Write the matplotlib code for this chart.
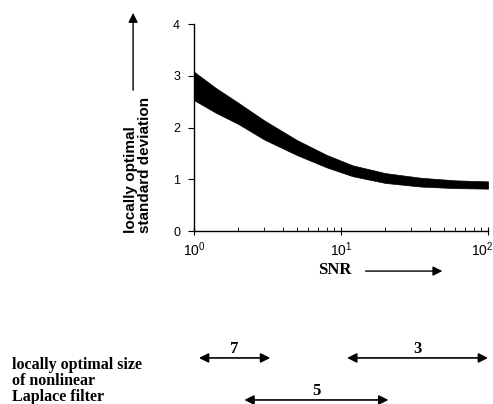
import matplotlib
import numpy as np

matplotlib.use("Agg")
import matplotlib.pyplot as plt  # noqa: E402
from matplotlib.transforms import ScaledTranslation, blended_transform_factory  # noqa: E402

plt.rcParams.update({"font.family": "Liberation Sans", "font.size": 9,
                     "mathtext.fontset": "custom", "mathtext.rm": "Liberation Sans",
                     "axes.linewidth": 1.0})

# band of locally optimal standard deviation vs SNR
snr = [1, 1.4, 2, 3, 5, 8, 12, 20, 35, 60, 100]
sd_upper = [3.08, 2.77, 2.48, 2.14, 1.76, 1.47, 1.27, 1.12, 1.03, 0.98, 0.96]
sd_lower = [2.53, 2.29, 2.07, 1.77, 1.47, 1.23, 1.06, 0.93, 0.86, 0.83, 0.82]

# SNR ranges for the locally optimal Laplace filter size
filter_sizes = ["7", "5", "3"]
filter_lo = [1.08, 2.2, 11.0]
filter_hi = [3.3, 21.0, 100.0]
filter_row = [0.114, 0.010, 0.114]

fig = plt.figure(figsize=(4.93, 4.04), dpi=100)
ax = fig.add_axes([0.3935, 0.428, 0.5965, 0.5125])

ax.fill_between(snr, sd_lower, sd_upper, color="black", lw=0.5, edgecolor="black")
ax.set_xscale("log")
ax.set_xlim(1, 100)
ax.set_ylim(0, 4)
ax.set_yticks([0, 1, 2, 3, 4])
ax.set_xticks([1, 10, 100])
ax.set_xticklabels([r"$10^0$", r"$10^1$", r"$10^2$"], fontsize=10)
for s in ("top", "right"):
    ax.spines[s].set_visible(False)
ax.tick_params(axis="y", direction="out", length=4, pad=6, labelsize=9)
ax.tick_params(axis="x", which="major", direction="inout", length=6, pad=4)
ax.tick_params(axis="x", which="minor", direction="in", length=3)
# the reference crops the last label at the page edge; pull it in a little
last = ax.get_xticklabels()[-1]
last.set_transform(last.get_transform() + ScaledTranslation(-6 / 100, 0, fig.dpi_scale_trans))

# y label with upward arrow
fig.text(0.28, 0.423, "locally optimal\nstandard deviation", rotation=90,
         ha="center", va="bottom", multialignment="left",
         fontsize=11, fontweight="bold", linespacing=1.05)
ax.annotate("", xy=(0.270, 0.975), xytext=(0.270, 0.770),
            xycoords="figure fraction", textcoords="figure fraction",
            arrowprops=dict(arrowstyle="-|>", lw=1.0, color="black",
                            mutation_scale=14))

# SNR label with arrow
fig.text(0.68, 0.331, "SNR", ha="center", va="center", family="Liberation Serif",
         fontsize=12, fontweight="bold")
ax.annotate("", xy=(0.903, 0.329), xytext=(0.736, 0.329),
            xycoords="figure fraction", textcoords="figure fraction",
            arrowprops=dict(arrowstyle="-|>", lw=1.0, color="black",
                            mutation_scale=14))

# filter size ranges under the plot
tr = blended_transform_factory(ax.transData, fig.transFigure)
for lab, lo, hi, yy in zip(filter_sizes, filter_lo, filter_hi, filter_row):
    ax.annotate("", xy=(hi, yy), xytext=(lo, yy), xycoords=tr, textcoords=tr,
                annotation_clip=False,
                arrowprops=dict(arrowstyle="<|-|>", lw=1.2, color="black",
                                mutation_scale=14, shrinkA=0, shrinkB=0))
    ax.text(np.sqrt(lo * hi), yy + 0.002, lab, transform=tr, ha="center",
            va="bottom", family="Liberation Serif", fontsize=12,
            fontweight="bold", clip_on=False)

fig.text(0.024, 0.057, "locally optimal size\nof nonlinear\nLaplace filter",
         ha="left", va="center", family="Liberation Serif", fontsize=11.5,
         fontweight="bold", linespacing=1.0)

fig.savefig("out.png", dpi=100)
